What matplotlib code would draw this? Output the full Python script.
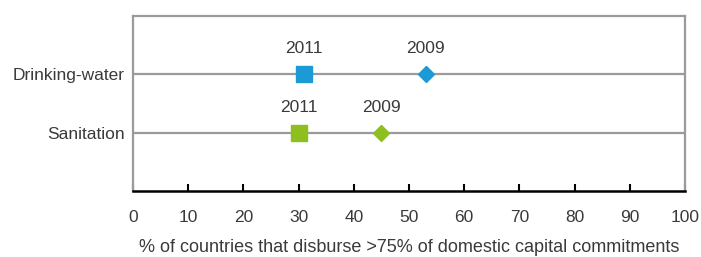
import matplotlib
matplotlib.use("Agg")
import matplotlib.pyplot as plt

categories = ["Sanitation", "Drinking-water"]
values_2011 = [30, 31]
values_2009 = [45, 53]
colors = ["#8dbf1e", "#1c9ad6"]
xticks = [0, 10, 20, 30, 40, 50, 60, 70, 80, 90, 100]
xlabel = "% of countries that disburse >75% of domestic capital commitments"

plt.rcParams['font.family'] = ['Liberation Sans', 'DejaVu Sans']
txt = "#3a3a3a"

fig = plt.figure(figsize=(7.01, 2.57), dpi=100)
ax = fig.add_axes([133/701, 1 - 191/257, (685-133)/701, (191-16)/257])

ypos = [1, 2]
for y, cat, v11, v09, c in zip(ypos, categories, values_2011, values_2009, colors):
    ax.axhline(y, color="#9a9a9a", lw=1.6, zorder=1)
    ax.plot(v11, y, marker="s", ms=11, color=c, ls="none", zorder=3)
    ax.plot(v09, y, marker="D", ms=8.5, color=c, ls="none", zorder=3)
    ax.annotate("2011", (v11, y), xytext=(0, 13), textcoords="offset points",
                ha="center", va="bottom", fontsize=12.5, color=txt)
    ax.annotate("2009", (v09, y), xytext=(0, 13), textcoords="offset points",
                ha="center", va="bottom", fontsize=12.5, color=txt)

ax.set_xlim(0, 100)
ax.set_ylim(0, 3)
ax.set_xticks(xticks)
ax.set_xticklabels([str(t) for t in xticks], fontsize=12.5, color=txt)
ax.set_yticks(ypos)
ax.set_yticklabels(categories, fontsize=12.5, color=txt)
ax.tick_params(axis="y", length=0, pad=6)
ax.tick_params(axis="x", direction="in", length=5, width=1.5, color="black", pad=14)
ax.set_xlabel(xlabel, fontsize=13, color=txt, labelpad=10)

for s in ["top", "left", "right"]:
    ax.spines[s].set_color("#9a9a9a")
    ax.spines[s].set_linewidth(1.6)
ax.spines["bottom"].set_color("black")
ax.spines["bottom"].set_linewidth(1.8)

fig.savefig("out.png", dpi=100)
